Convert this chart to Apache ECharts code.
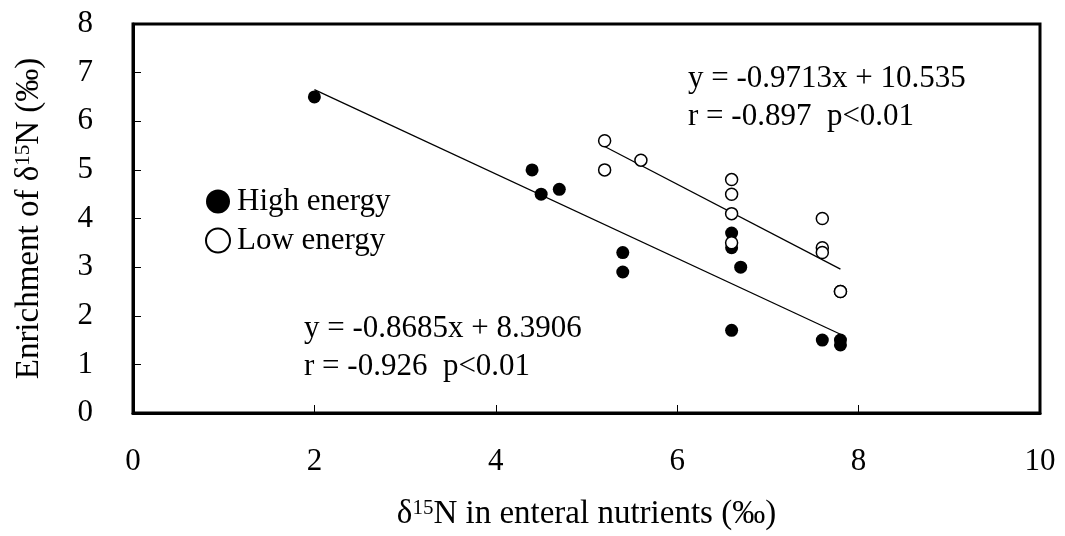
<!DOCTYPE html>
<html><head><meta charset="utf-8">
<script src="https://cdn.jsdelivr.net/npm/echarts@6/dist/echarts.min.js"></script>
<style>html,body{margin:0;padding:0;background:#fff}#c{width:1065px;height:536px}</style>
</head><body><div id="c"></div>
<script>
const xTicks = [0, 2, 4, 6, 8, 10];
const yTicks = [0, 1, 2, 3, 4, 5, 6, 7, 8];
const highX = [2.0, 4.4, 4.5, 4.7, 5.4, 5.4, 6.6, 6.6, 6.7, 6.6, 7.6, 7.8, 7.8];
const highY = [6.5, 5.0, 4.5, 4.6, 3.3, 2.9, 3.7, 3.4, 3.0, 1.7, 1.5, 1.5, 1.4];
const lowX = [5.2, 5.2, 5.6, 6.6, 6.6, 6.6, 6.6, 7.6, 7.6, 7.6, 7.8, 7.8];
const lowY = [5.6, 5.0, 5.2, 4.8, 4.5, 4.1, 3.5, 4.0, 3.4, 3.3, 2.5, 2.5];
const highFitX = [2.0, 7.8];
const highFitY = [6.65, 1.62];
const lowFitX = [5.2, 7.8];
const lowFitY = [5.48, 2.96];
const highLabel = ['y = -0.8685x + 8.3906', 'r = -0.926  p<0.01'];
const lowLabel = ['y = -0.9713x + 10.535', 'r = -0.897  p<0.01'];
const seriesNames = ['High energy', 'Low energy'];

const FONT = '"Liberation Serif", "DejaVu Serif", serif';
const zip = (a, b) => a.map((v, i) => [v, b[i]]);
const nameRich = {
  a: {fontFamily: FONT, fontSize: 33, color: '#000'},
  s: {fontFamily: FONT, fontSize: 21, color: '#000', verticalAlign: 'top', padding: [0, 0, 12, 0]}
};

const chart = echarts.init(document.getElementById('c'), null, {renderer: 'canvas'});
chart.setOption({
  animation: false,
  backgroundColor: '#fff',
  textStyle: {fontFamily: FONT, color: '#000'},
  grid: {left: 133, right: 25, top: 24, bottom: 122, show: true, borderColor: '#000', borderWidth: 3, backgroundColor: 'transparent'},
  legend: {
    data: seriesNames,
    orient: 'vertical',
    left: 200, top: 181,
    itemWidth: 24, itemHeight: 24, itemGap: 8,
    icon: 'circle',
    textStyle: {fontFamily: FONT, fontSize: 31, color: '#000', padding: [0, 0, 0, 2]},
    selectedMode: false
  },
  xAxis: {
    type: 'value', min: xTicks[0], max: xTicks[xTicks.length - 1], interval: 2,
    splitLine: {show: false},
    axisLine: {show: true, lineStyle: {color: '#000', width: 3}},
    axisTick: {show: true, inside: true, length: 8, lineStyle: {color: '#000', width: 1}},
    axisLabel: {fontFamily: FONT, fontSize: 31, color: '#000', margin: 33},
    name: '{a|δ}{s|15}{a|N in enteral nutrients (‰)}',
    nameLocation: 'middle', nameGap: 85,
    nameTextStyle: {rich: nameRich}
  },
  yAxis: {
    type: 'value', min: yTicks[0], max: yTicks[yTicks.length - 1], interval: 1,
    splitLine: {show: false},
    axisLine: {show: true, lineStyle: {color: '#000', width: 3}},
    axisTick: {show: true, inside: true, length: 8, lineStyle: {color: '#000', width: 1}},
    axisLabel: {fontFamily: FONT, fontSize: 31, color: '#000', margin: 40},
    name: '{a|Enrichment of δ}{s|15}{a|N (‰)}',
    nameLocation: 'middle', nameGap: 87, nameRotate: 90,
    nameTextStyle: {rich: nameRich}
  },
  series: [
    {name: seriesNames[0], type: 'scatter', data: zip(highX, highY), symbol: 'circle', symbolSize: 13,
     itemStyle: {color: '#000', borderColor: '#000', borderWidth: 0, opacity: 1}, z: 3},
    {name: seriesNames[1], type: 'scatter', data: zip(lowX, lowY), symbol: 'circle', symbolSize: 12,
     itemStyle: {color: '#fff', borderColor: '#000', borderWidth: 1.5, opacity: 1}, z: 3},
    {name: 'highFit', type: 'line', data: zip(highFitX, highFitY), showSymbol: false, symbol: 'none',
     lineStyle: {color: '#000', width: 1.3}, z: 2},
    {name: 'lowFit', type: 'line', data: zip(lowFitX, lowFitY), showSymbol: false, symbol: 'none',
     lineStyle: {color: '#000', width: 1.3}, z: 2}
  ],
  graphic: [
    {type: 'text', left: 688, top: 60, style: {text: lowLabel.join('\n'), font: '31px ' + FONT, fill: '#000', lineHeight: 38}},
    {type: 'text', left: 304, top: 310, style: {text: highLabel.join('\n'), font: '31px ' + FONT, fill: '#000', lineHeight: 38}}
  ]
});
</script></body></html>
